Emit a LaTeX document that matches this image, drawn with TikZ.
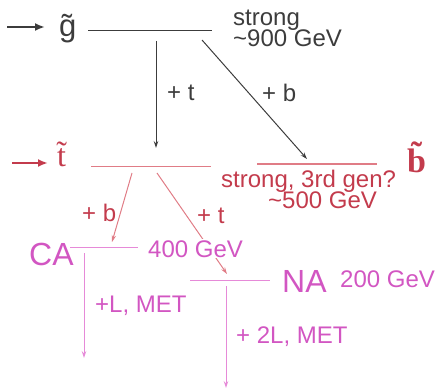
\documentclass[tikz,border=0pt]{standalone}
\usepackage{fontspec}
\setmainfont{Liberation Sans}
\newfontfamily\sparticle{Liberation Serif}
\usetikzlibrary{arrows.meta}
\definecolor{dgray}{HTML}{3C3C3C}
\definecolor{redt}{HTML}{C33B4C}
\definecolor{redl}{HTML}{E07C86}
\definecolor{pinkt}{HTML}{D256C2}
\definecolor{pinkl}{HTML}{E68AD8}
\begin{document}
\begin{tikzpicture}[x=1pt,y=-1pt,
  lbl/.style={font=\fontsize{24}{24}\selectfont, inner sep=0pt, anchor=base west},
  big/.style={font=\fontsize{32}{32}\selectfont, inner sep=0pt, anchor=base west},
  part/.style={font=\fontsize{32}{32}\sparticle, inner sep=0pt, anchor=base west},
  level/.style={line width=1pt},
  decay/.style={line width=1pt, -{Stealth[length=7pt,width=4.5pt,inset=2.5pt]}},
  entry/.style={line width=2.2pt, -{Latex[length=10pt,width=8pt]}}]
\useasboundingbox (0,0) rectangle (441,390);
% ---- gluino level
\coordinate (ga) at (7,27);
\coordinate (gb) at (45,27);
\draw[entry, dgray] (ga) -- (gb);
\node[part, dgray, font=\fontsize{31}{31}\selectfont] (gl) at (59,37) {\~{g}};
\coordinate (g1) at (88,31);
\coordinate (g2) at (212,31);
\draw[level, dgray] (g1) -- (g2);
\node[lbl, dgray] (gs1) at (233,26) {strong};
\node[lbl, dgray] (gs2) at (233,47) {\char`\~900 GeV};
% ---- stop / sbottom level
\coordinate (ta) at (12,163);
\coordinate (tb) at (48,163);
\draw[entry, redt] (ta) -- (tb);
\node[part, redt] (st) at (57,167) {\~{t}};
\coordinate (t1) at (91,166);
\coordinate (t2) at (211,166);
\draw[level, redl] (t1) -- (t2);
\coordinate (b1) at (257,164);
\coordinate (b2) at (377,164);
\draw[level, redl] (b1) -- (b2);
\node[part, redt, font=\fontsize{34}{34}\sparticle\bfseries] (sb) at (407,172) {\~{b}};
\node[lbl, redt] (ss1) at (221,187) {strong, 3rd gen?};
\node[lbl, redt] (ss2) at (268,208) {\char`\~500 GeV};
% gluino decays
\coordinate (d1s) at (156,41);
\coordinate (d1e) at (156,148);
\draw[decay, dgray] (d1s) -- (d1e);
\node[lbl, dgray] (pt1) at (167,101) {+ t};
\coordinate (d2s) at (202,40);
\coordinate (d2e) at (307,159);
\draw[decay, dgray] (d2s) -- (d2e);
\node[lbl, dgray] (pb1) at (262,102) {+ b};
% ---- CA level
\coordinate (c1) at (70,247);
\coordinate (c2) at (138,247);
\coordinate (s1s) at (132,173);
\coordinate (s1e) at (112,242);
\draw[decay, redl] (s1s) -- (s1e);
\node[lbl, redt] (pb2) at (82,221) {+ b};
\coordinate (s2s) at (157,173);
\coordinate (s2e) at (227,274);
\draw[decay, redl] (s2s) -- (s2e);
\node[lbl, redt] (pt2) at (197,223) {+ t};
\draw[level, pinkl] (c1) -- (c2);
\node[big, pinkt] (ca) at (29,265) {CA};
\node[lbl, pinkt, fill=white, inner sep=1pt] (m400) at (147,257) {400 GeV};
\coordinate (cas) at (84,253);
\coordinate (cae) at (84,358);
\draw[decay, pinkl] (cas) -- (cae);
\node[lbl, pinkt] (lm1) at (95,312) {+L, MET};
% ---- NA level
\coordinate (n1) at (190,280);
\coordinate (n2) at (270,280);
\draw[level, pinkl] (n1) -- (n2);
\node[big, pinkt] (na) at (282,292) {NA};
\node[lbl, pinkt] (m200) at (340,287) {200 GeV};
\coordinate (nas) at (226,286);
\coordinate (nae) at (226,388);
\draw[decay, pinkl] (nas) -- (nae);
\node[lbl, pinkt] (lm2) at (236,343) {+ 2L, MET};
\end{tikzpicture}
\end{document}
